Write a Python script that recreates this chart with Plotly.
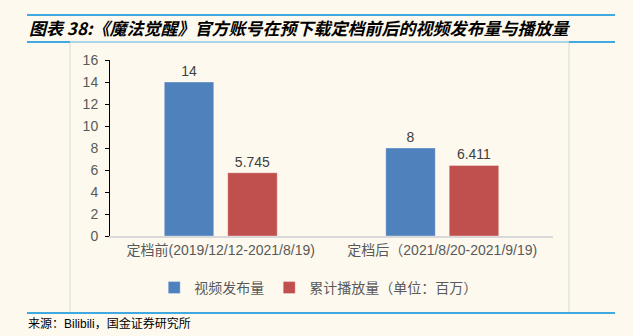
import plotly.graph_objects as go

# ---- data ----
categories = ["定档前(2019/12/12-2021/8/19)", "定档后（2021/8/20-2021/9/19)"]
video_counts = [14, 8]
play_counts = [5.745, 6.411]
series_names = ["视频发布量", "累计播放量（单位：百万）"]
y_ticks = [0, 2, 4, 6, 8, 10, 12, 14, 16]
title_text = "图表 38:《魔法觉醒》官方账号在预下载定档前后的视频发布量与播放量"
source_text = "来源：Bilibili，国金证券研究所"

W, H = 633, 336
L, R, T, B = 110, 80, 60, 100
PW, PH = W - L - R, H - T - B

def px(x):
    return (x - L) / PW

def py(y):
    return (H - B - y) / PH

BG = "#FDF9EE"
BLUE = "#4F81BD"
RED = "#C0504D"
FONT = "Liberation Sans, Arial, Noto Sans CJK SC, sans-serif"

fig = go.Figure()
fig.add_trace(go.Bar(
    x=categories, y=video_counts, name=series_names[0],
    marker=dict(color=BLUE, line=dict(color="rgba(255,255,255,0.35)", width=1)),
    text=[str(v) for v in video_counts], textposition="outside",
    textfont=dict(size=14, color="#404040"), cliponaxis=False,
))
fig.add_trace(go.Bar(
    x=categories, y=play_counts, name=series_names[1],
    marker=dict(color=RED, line=dict(color="rgba(255,255,255,0.35)", width=1)),
    text=[str(v) for v in play_counts], textposition="outside",
    textfont=dict(size=14, color="#404040"), cliponaxis=False,
))

shapes = []
# title lines
shapes.append(dict(type="line", xref="paper", yref="paper", x0=px(27), x1=px(615), y0=py(15), y1=py(15),
                   line=dict(color="#3FA9E0", width=2)))
shapes.append(dict(type="line", xref="paper", yref="paper", x0=px(27), x1=px(615), y0=py(42), y1=py(42),
                   line=dict(color="#3FA9E0", width=2)))
shapes.append(dict(type="line", xref="paper", yref="paper", x0=px(70), x1=px(569), y0=py(42), y1=py(42),
                   line=dict(color="#A9D5EA", width=2)))
# chart box sides
shapes.append(dict(type="line", xref="paper", yref="paper", x0=px(70), x1=px(70), y0=py(43), y1=py(312),
                   line=dict(color="#D9D9D9", width=1)))
shapes.append(dict(type="line", xref="paper", yref="paper", x0=px(569), x1=px(569), y0=py(43), y1=py(312),
                   line=dict(color="#D9D9D9", width=1)))
# bottom line
shapes.append(dict(type="line", xref="paper", yref="paper", x0=px(27), x1=px(615), y0=py(313), y1=py(313),
                   line=dict(color="#3FA9E0", width=2)))

annotations = [
    dict(text="<b><i>" + title_text + "</i></b>", xref="paper", yref="paper", x=px(27), y=py(27),
         xanchor="left", yanchor="middle", showarrow=False,
         font=dict(size=17, color="#000000", family="Noto Sans CJK SC, sans-serif")),
    dict(text=source_text, xref="paper", yref="paper", x=px(26), y=py(323),
         xanchor="left", yanchor="middle", showarrow=False,
         font=dict(size=12, color="#000000", family=FONT)),
]

fig.update_layout(
    width=W, height=H,
    margin=dict(l=L, r=R, t=T, b=B, pad=0),
    paper_bgcolor=BG, plot_bgcolor=BG,
    font=dict(family=FONT, size=14, color="#595959"),
    barmode="group", bargap=0.427, bargroupgap=0.22,
    showlegend=True,
    legend=dict(orientation="h", x=0.47, xanchor="center", y=py(288), yanchor="middle",
                font=dict(size=14, color="#595959"), bgcolor="rgba(0,0,0,0)", itemwidth=30,
                traceorder="normal"),
    shapes=shapes, annotations=annotations,
    xaxis=dict(showline=True, linecolor="#D9D9D9", linewidth=2, ticks="", showgrid=False,
               tickfont=dict(size=14, color="#595959")),
    yaxis=dict(range=[0, 16], tickvals=y_ticks, showline=True, linecolor="#000000", linewidth=1,
               ticks="outside", ticklen=4, tickcolor="#000000", showgrid=False, zeroline=False,
               ticklabelstandoff=4,
               tickfont=dict(size=14, color="#595959")),
)

fig.write_html("out.html")
